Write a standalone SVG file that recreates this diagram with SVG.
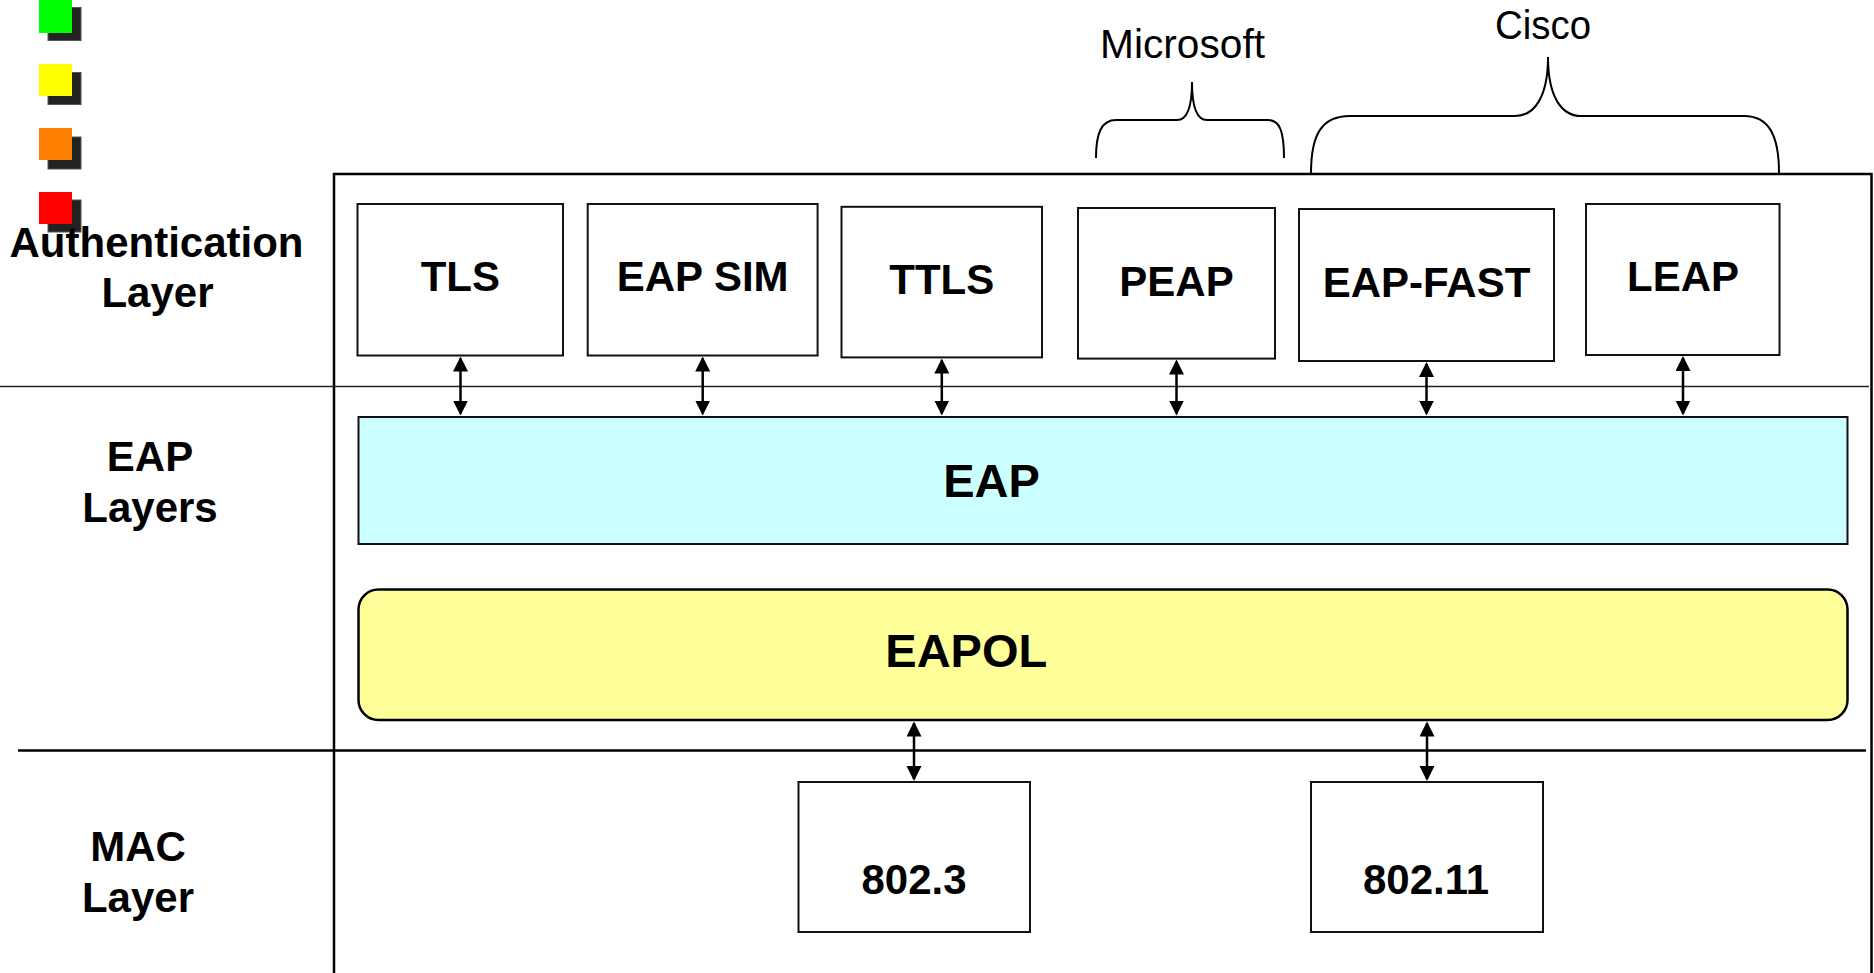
<svg xmlns="http://www.w3.org/2000/svg" width="1874" height="973" viewBox="0 0 1874 973">
<defs>
<style>
.bx{fill:#fff;stroke:#111;stroke-width:2}
.lbl{font-family:"Liberation Sans",Arial,sans-serif;font-weight:bold;font-size:42px;fill:#000;text-anchor:middle}
.big{font-size:47px}
.reg{font-family:"Liberation Sans",Arial,sans-serif;font-size:41px;fill:#000;text-anchor:middle}
.conn{stroke:#000;stroke-width:2.5;fill:none;marker-start:url(#ah);marker-end:url(#ah)}
.brace{stroke:#000;stroke-width:2;fill:none}
.shadow{fill:#222;stroke:#555;stroke-width:1}
</style>
<marker id="ah" markerUnits="userSpaceOnUse" markerWidth="16" markerHeight="16" refX="13" refY="7.5" orient="auto-start-reverse">
<path d="M0,0 L15,7.5 L0,15 z" fill="#000"/>
</marker>
</defs>
<rect width="1874" height="973" fill="#fff"/>

<g id="legend">
<rect class="shadow" x="48" y="7.5" width="33" height="33"/>
<rect x="39" y="-1" width="33" height="34" fill="#00FF00"/>
<rect class="shadow" x="48" y="72.5" width="33" height="32"/>
<rect x="39" y="64" width="33" height="32" fill="#FFFF00"/>
<rect class="shadow" x="48" y="137" width="33" height="32"/>
<rect x="39" y="128" width="33" height="32" fill="#FF8000"/>
<rect class="shadow" x="48" y="200" width="33" height="32"/>
<rect x="39" y="192" width="33" height="32" fill="#FF0000"/>
</g>

<g id="frame">
<path d="M334,980 V174 H1871.5 V980" fill="none" stroke="#000" stroke-width="2.5"/>
<line x1="0" y1="386.5" x2="1869" y2="386.5" stroke="#222" stroke-width="1.6"/>
<line x1="18" y1="750.5" x2="1866" y2="750.5" stroke="#000" stroke-width="2.5"/>
</g>

<g id="side-labels">
<text class="lbl" x="156.5" y="257">Authentication</text>
<text class="lbl" x="157.5" y="307">Layer</text>
<text class="lbl" x="150" y="470.5">EAP</text>
<text class="lbl" x="150" y="521.5">Layers</text>
<text class="lbl" x="138" y="861">MAC</text>
<text class="lbl" x="138" y="912">Layer</text>
</g>

<g id="vendors">
<path class="brace" d="M1096,158 C1096,132 1102,120 1116,120 L1177,120 C1188,120 1192,106 1192,82 C1192,106 1196,120 1207,120 L1268,120 C1280,120 1284,132 1284,158"/>
<text class="reg" x="1182.5" y="58" textLength="165" lengthAdjust="spacingAndGlyphs">Microsoft</text>
<path class="brace" d="M1311,173 C1311,134 1322,116 1350,116 L1515,116 C1535,116 1548,96 1548,57 C1548,96 1561,116 1581,116 L1744,116 C1768,116 1779,134 1779,173"/>
<text class="reg" x="1543" y="39" textLength="96" lengthAdjust="spacingAndGlyphs">Cisco</text>
</g>

<g id="tls"><rect class="bx" x="357.5" y="204" width="205.5" height="151.5"/><text class="lbl" x="460.3" y="290.5">TLS</text></g>
<g id="eapsim"><rect class="bx" x="587.7" y="204" width="229.9" height="151.5"/><text class="lbl" x="702.6" y="291">EAP SIM</text></g>
<g id="ttls"><rect class="bx" x="841.5" y="206.8" width="200.5" height="150.6"/><text class="lbl" x="941.8" y="294">TTLS</text></g>
<g id="peap"><rect class="bx" x="1078" y="208" width="197" height="150.6"/><text class="lbl" x="1176.5" y="295.5">PEAP</text></g>
<g id="eapfast"><rect class="bx" x="1299" y="209" width="255" height="152"/><text class="lbl" x="1426.5" y="297">EAP-FAST</text></g>
<g id="leap"><rect class="bx" x="1586" y="204" width="193.5" height="151"/><text class="lbl" x="1683" y="291">LEAP</text></g>

<g id="eap"><rect x="358.5" y="417" width="1489" height="127" fill="#CCFFFF" stroke="#111" stroke-width="2"/><text class="lbl big" x="991.5" y="497">EAP</text></g>
<g id="eapol"><rect x="358.5" y="589.5" width="1489" height="130.5" rx="20" ry="20" fill="#FFFF99" stroke="#000" stroke-width="2.5"/><text class="lbl big" x="966.3" y="667">EAPOL</text></g>

<g id="mac8023"><rect class="bx" x="798.5" y="782" width="231.5" height="150"/><text class="lbl" x="914" y="894">802.3</text></g>
<g id="mac80211"><rect class="bx" x="1311" y="782" width="232" height="150"/><text class="lbl" x="1426" y="894">802.11</text></g>

<g id="connectors">
<line class="conn" x1="460.5" y1="358.5" x2="460.5" y2="413.5"/>
<line class="conn" x1="702.7" y1="358.5" x2="702.7" y2="413.5"/>
<line class="conn" x1="941.8" y1="360.5" x2="941.8" y2="413.5"/>
<line class="conn" x1="1176.5" y1="361.5" x2="1176.5" y2="413.5"/>
<line class="conn" x1="1426.5" y1="364" x2="1426.5" y2="413.5"/>
<line class="conn" x1="1683" y1="358" x2="1683" y2="413.5"/>
<line class="conn" x1="914" y1="723.5" x2="914" y2="779"/>
<line class="conn" x1="1427" y1="723.5" x2="1427" y2="779"/>
</g>
</svg>
